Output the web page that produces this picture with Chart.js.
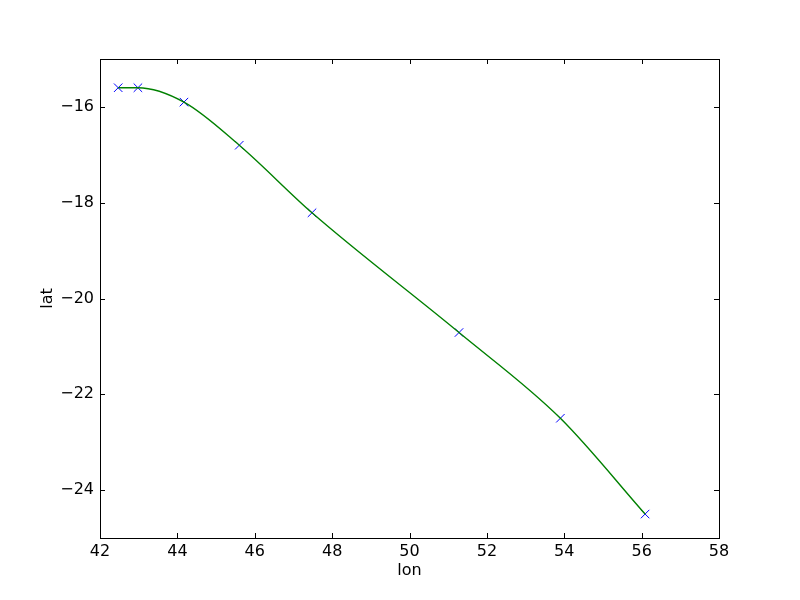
<!DOCTYPE html>
<html>
<head>
<meta charset="utf-8">
<script src="https://cdn.jsdelivr.net/npm/chart.js@4"></script>
<style>
  html, body { margin: 0; padding: 0; background: #fff; }
  #wrap { width: 800px; height: 600px; }
</style>
</head>
<body>
<div id="wrap"><canvas id="chart" width="800" height="600"></canvas></div>
<script>
// track points
const lon = [42.47, 42.98, 44.17, 45.6, 47.48, 51.28, 53.9, 56.09];
const lat = [-15.6, -15.6, -15.9, -16.8, -18.21, -20.71, -22.5, -24.5];

const xTicks = [42, 44, 46, 48, 50, 52, 54, 56, 58];
const yTicks = [-24, -22, -20, -18, -16];

const pts = lon.map((x, i) => ({ x: x, y: lat[i] }));
const FONT = "DejaVu Sans";
const FSIZE = 16;

// matplotlib style frame + inward ticks on all sides
const framePlugin = {
  id: "frame",
  afterDraw(chart) {
    const ctx = chart.ctx;
    const a = chart.chartArea;
    const xs = chart.scales.x;
    const ys = chart.scales.y;
    const len = 5;
    ctx.save();
    ctx.strokeStyle = "#000";
    ctx.lineWidth = 1;
    ctx.beginPath();
    xTicks.forEach((v) => {
      const px = Math.round(xs.getPixelForValue(v)) + 0.5;
      ctx.moveTo(px, a.bottom);
      ctx.lineTo(px, a.bottom - len);
      ctx.moveTo(px, a.top);
      ctx.lineTo(px, a.top + len);
    });
    yTicks.forEach((v) => {
      const py = Math.round(ys.getPixelForValue(v)) + 0.5;
      ctx.moveTo(a.left, py);
      ctx.lineTo(a.left + len, py);
      ctx.moveTo(a.right, py);
      ctx.lineTo(a.right - len, py);
    });
    ctx.stroke();
    ctx.strokeRect(Math.round(a.left) + 0.5, Math.round(a.top) + 0.5,
      Math.round(a.right - a.left), Math.round(a.bottom - a.top));
    ctx.restore();
  },
};

const minus = (v) => String(v).replace("-", "\u2212");

new Chart(document.getElementById("chart"), {
  type: "scatter",
  data: {
    datasets: [
      {
        // fitted track, smoothed by the library
        data: pts,
        showLine: true,
        borderColor: "#008000",
        borderWidth: 1.4,
        pointRadius: 0,
        cubicInterpolationMode: "monotone",
        fill: false,
      },
      {
        // observed points
        data: pts,
        showLine: false,
        pointStyle: "crossRot",
        pointRadius: 6,
        borderColor: "#0000ff",
        borderWidth: 1,
      },
    ],
  },
  options: {
    responsive: false,
    animation: false,
    events: [],
    layout: { padding: { top: 59, right: 81, left: 0, bottom: 0 } },
    plugins: { legend: { display: false }, tooltip: { enabled: false } },
    scales: {
      x: {
        type: "linear",
        min: 42,
        max: 58,
        afterBuildTicks: (s) => { s.ticks = xTicks.map((v) => ({ value: v })); },
        afterFit: (s) => { s.height = 62; },
        grid: { display: false, drawTicks: false },
        border: { display: false },
        ticks: {
          color: "#000",
          font: { family: FONT, size: FSIZE },
          padding: 4,
          maxRotation: 0,
          callback: (v) => minus(v),
        },
        title: {
          display: true,
          text: "lon",
          color: "#000",
          font: { family: FONT, size: FSIZE },
          padding: { top: 0, bottom: 20 },
        },
      },
      y: {
        type: "linear",
        min: -25,
        max: -15,
        afterBuildTicks: (s) => { s.ticks = yTicks.map((v) => ({ value: v })); },
        afterFit: (s) => { s.width = 100; },
        grid: { display: false, drawTicks: false },
        border: { display: false },
        ticks: {
          color: "#000",
          font: { family: FONT, size: FSIZE },
          padding: 6,
          callback: (v) => minus(v),
        },
        title: {
          display: true,
          text: "lat",
          color: "#000",
          font: { family: FONT, size: FSIZE },
          padding: { top: 38, bottom: 0 },
        },
      },
    },
  },
  plugins: [framePlugin],
});
</script>
</body>
</html>
